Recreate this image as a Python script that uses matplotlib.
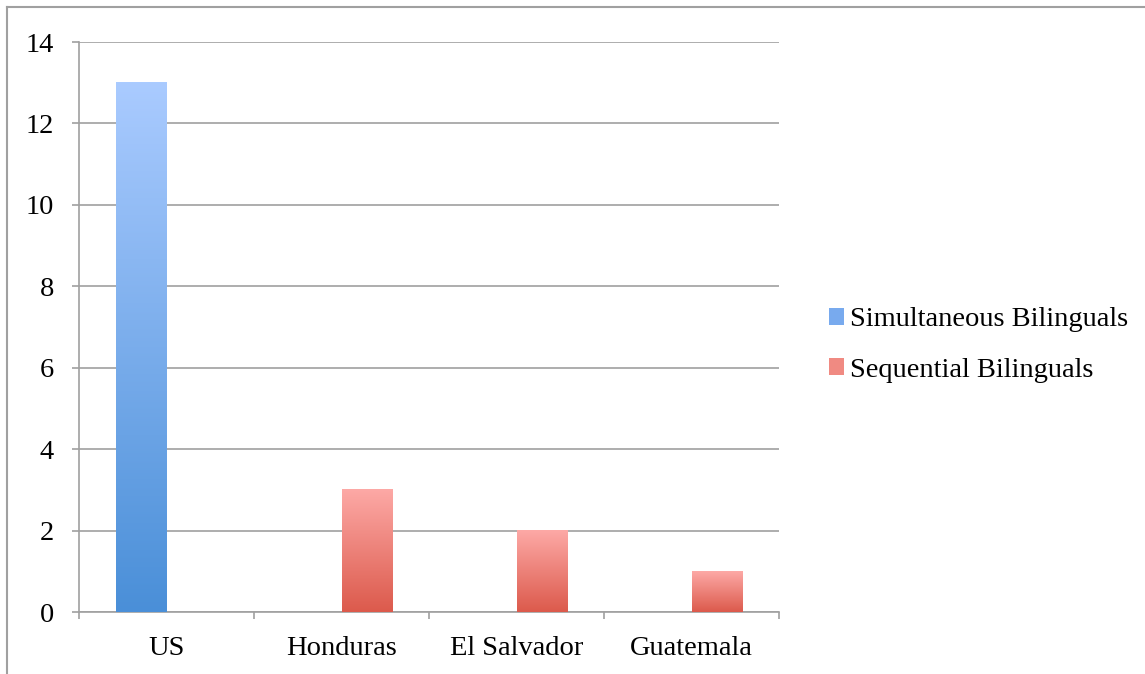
import numpy as np
import matplotlib.pyplot as plt
from matplotlib.colors import LinearSegmentedColormap
from matplotlib.patches import Patch
from matplotlib.lines import Line2D

plt.rcParams["font.family"] = ["Liberation Serif", "DejaVu Serif"]

# data
countries = ['US', 'Honduras', 'El Salvador', 'Guatemala']
simultaneous = [13, 0, 0, 0]
sequential = [0, 3, 2, 1]
series_names = ['Simultaneous Bilinguals', 'Sequential Bilinguals']

# bottom -> top gradient like the Excel bars
blue_cmap = LinearSegmentedColormap.from_list('blue', ['#4a8fd8', '#aacbff'])
red_cmap = LinearSegmentedColormap.from_list('red', ['#dc5a4c', '#fda9a6'])
grey = '#a0a0a0'
fs = 20.5

fig = plt.figure(figsize=(11.45, 6.74), dpi=100)
ax = fig.add_axes([79 / 1145, 1 - 612 / 674, 700 / 1145, 570 / 674])

x = np.arange(len(countries))
w = 0.29
bars1 = ax.bar(x - w, simultaneous, w, align='edge', color='none', zorder=3)
bars2 = ax.bar(x, sequential, w, align='edge', color='none', zorder=3)

grad = np.linspace(0, 1, 256).reshape(-1, 1)
for bars, cmap in ((bars1, blue_cmap), (bars2, red_cmap)):
    for b in bars:
        h = b.get_height()
        if h <= 0:
            continue
        x0 = b.get_x()
        ax.imshow(grad, cmap=cmap, origin='lower', aspect='auto',
                  extent=[x0, x0 + b.get_width(), 0, h], zorder=3)

ax.set_xlim(-0.5, len(countries) - 0.5)
ax.set_ylim(0, 14)
ax.set_yticks(range(0, 15, 2))

# axes styling
ax.yaxis.grid(True, color=grey, lw=1.2)
ax.set_axisbelow(True)
for s in ['top', 'right']:
    ax.spines[s].set_visible(False)
for s in ['left', 'bottom']:
    ax.spines[s].set_color(grey)
    ax.spines[s].set_linewidth(1.2)

ax.set_xticks(x)
ax.set_xticklabels(countries)
ax.set_xticks(np.arange(-0.5, len(countries)), minor=True)
ax.tick_params(axis='x', which='major', length=0, pad=17, labelsize=fs)
ax.tick_params(axis='x', which='minor', length=5, width=1.2, color=grey)
ax.tick_params(axis='y', length=5, width=1.2, color=grey, pad=13, labelsize=fs)

# legend
handles = [Patch(facecolor='#78aaee', edgecolor='none'),
           Patch(facecolor='#f08a82', edgecolor='none')]
fig.legend(handles, series_names, loc='center left',
           bbox_to_anchor=(829 / 1145, 1 - 345 / 674), frameon=False,
           fontsize=fs, handlelength=0.53, handleheight=0.53,
           handletextpad=0.22, labelspacing=0.88, borderpad=0, borderaxespad=0)

# partial chart frame (left and top)
fx = 7 / 1145
fy = 1 - 7 / 674
fig.add_artist(Line2D([fx, fx], [0, fy], transform=fig.transFigure, color=grey, lw=1.5))
fig.add_artist(Line2D([fx, 1], [fy, fy], transform=fig.transFigure, color=grey, lw=1.5))

plt.savefig('out.png', dpi=100)
